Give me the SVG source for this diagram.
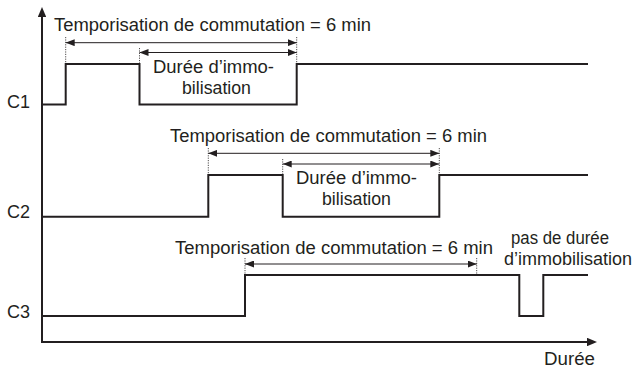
<svg xmlns="http://www.w3.org/2000/svg" width="635" height="370" viewBox="0 0 635 370">
  <style>
    .sig { fill: none; stroke: #231f20; stroke-width: 2; stroke-linejoin: miter; }
    .axis { fill: none; stroke: #231f20; stroke-width: 2; }
    .dim { fill: none; stroke: #231f20; stroke-width: 1; marker-start: url(#ah); marker-end: url(#ah); }
    .guide { fill: none; stroke: #231f20; stroke-width: 0.8; stroke-dasharray: 1.2 1.2; }
    text { font-family: "Liberation Sans", Arial, sans-serif; font-size: 17.5px; fill: #231f20; }
  </style>
  <defs>
    <marker id="ah" viewBox="0 0 9 7" refX="9" refY="3.5" markerWidth="9" markerHeight="7" markerUnits="userSpaceOnUse" orient="auto-start-reverse">
      <path d="M0,0 L9,3.5 L0,7 Z" fill="#231f20"/>
    </marker>
    <marker id="axh" viewBox="0 0 10 8.5" refX="4" refY="4.25" markerWidth="10" markerHeight="8.5" markerUnits="userSpaceOnUse" orient="auto">
      <path d="M0,0 L10,4.25 L0,8.5 Z" fill="#231f20"/>
    </marker>
  </defs>

  <!-- axes -->
  <g id="axes">
    <path class="axis" d="M42,342 V13" marker-end="url(#axh)"/>
    <path class="axis" d="M41,342 H591" marker-end="url(#axh)"/>
    <text x="544" y="365" textLength="51" lengthAdjust="spacingAndGlyphs">Durée</text>
  </g>

  <!-- channel C1 -->
  <g id="c1">
    <text x="7" y="108" textLength="23" lengthAdjust="spacingAndGlyphs">C1</text>
    <path class="sig" d="M42,104.5 H65.7 V64 H139.5 V104.5 H296.7 V64 H588"/>
    <text x="54" y="31" textLength="317" lengthAdjust="spacingAndGlyphs">Temporisation de commutation = 6 min</text>
    <text x="153" y="73" textLength="121" lengthAdjust="spacingAndGlyphs">Durée d’immo-</text>
    <text x="182" y="93.5" textLength="69" lengthAdjust="spacingAndGlyphs">bilisation</text>
  </g>

  <!-- channel C2 -->
  <g id="c2">
    <text x="7" y="218" textLength="23" lengthAdjust="spacingAndGlyphs">C2</text>
    <path class="sig" d="M42,216.7 H208.3 V175 H282.7 V216.7 H439.3 V175 H588"/>
    <text x="170" y="142" textLength="317" lengthAdjust="spacingAndGlyphs">Temporisation de commutation = 6 min</text>
    <text x="296" y="184" textLength="121" lengthAdjust="spacingAndGlyphs">Durée d’immo-</text>
    <text x="322" y="204.5" textLength="69" lengthAdjust="spacingAndGlyphs">bilisation</text>
  </g>

  <!-- channel C3 -->
  <g id="c3">
    <text x="7" y="318" textLength="23" lengthAdjust="spacingAndGlyphs">C3</text>
    <path class="sig" d="M42,316 H245 V275 H519.3 V316 H543.3 V275 H588"/>
    <text x="175" y="254" textLength="318" lengthAdjust="spacingAndGlyphs">Temporisation de commutation = 6 min</text>
    <text x="511" y="244" textLength="98" lengthAdjust="spacingAndGlyphs">pas de durée</text>
    <text x="504" y="264.5" textLength="128" lengthAdjust="spacingAndGlyphs">d’immobilisation</text>
  </g>

  <!-- dimension arrows and dotted guides -->
  <g id="connectors">
    <path class="guide" d="M65.7,37 V63 M139.5,48 V63 M296.7,37 V63"/>
    <path class="dim" d="M65.7,42.7 H296.7"/>
    <path class="dim" d="M139.5,52.5 H296.7"/>

    <path class="guide" d="M208.3,148 V174 M282.7,159 V174 M439.3,148 V174"/>
    <path class="dim" d="M208.3,153.3 H439.3"/>
    <path class="dim" d="M282.7,164 H439.3"/>

    <path class="guide" d="M245,258 V274 M476.7,258 V274"/>
    <path class="dim" d="M245,264 H476.7"/>
  </g>
</svg>
